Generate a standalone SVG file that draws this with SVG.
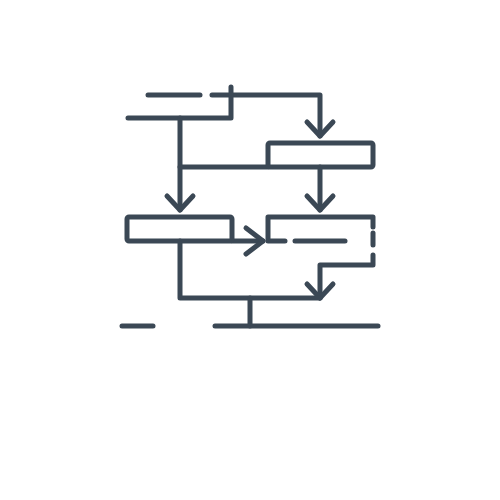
<svg xmlns="http://www.w3.org/2000/svg" width="500" height="500" viewBox="0 0 500 500">
<style>
.s{fill:none;stroke:#3b4855;stroke-width:5;stroke-linecap:round;stroke-linejoin:round}
</style>
<rect width="500" height="500" fill="#fff"/>
<g id="connectors" class="s">
<path d="M148,95 H200"/>
<path d="M212,95 H320 V136"/>
<path d="M307,122 L320,136 L333,122"/>
<path d="M231,87 V118 H128"/>
<path d="M180,118 V210"/>
<path d="M167,196 L180,210 L193,196"/>
<path d="M180,167 H268"/>
<path d="M320,167 V210"/>
<path d="M307,196 L320,210 L333,196"/>
<path d="M232,241 H263"/>
<path d="M246,228 L263,241 L246,254"/>
<path d="M373,255 V265 H320 V298"/>
<path d="M307,284 L320,298 L333,284"/>
<path d="M180,241 V298 H320"/>
<path d="M250,298 V326"/>
<path d="M122,326 H153"/>
<path d="M215,326 H378"/>
</g>
<g id="node1" class="s"><rect x="268" y="143" width="105" height="24" rx="2"/></g>
<g id="node2" class="s"><rect x="127" y="217" width="105" height="24" rx="2"/></g>
<g id="node3" class="s">
<path d="M285,241 H268 V217 H373 V227"/>
<path d="M295,241 H345"/>
<path d="M373,233 V245"/>
</g>
</svg>
